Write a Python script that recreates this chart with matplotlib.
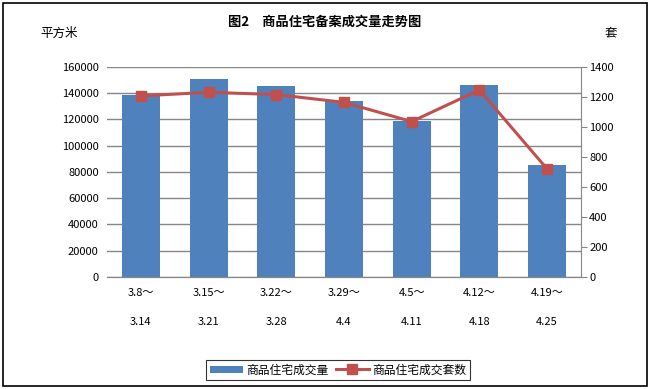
import matplotlib.pyplot as plt
from matplotlib.patches import Rectangle

plt.rcParams['font.family'] = ['Noto Sans CJK SC', 'DejaVu Sans']

weeks_start = ['3.8～', '3.15～', '3.22～', '3.29～', '4.5～', '4.12～', '4.19～']
weeks_end = ['3.14', '3.21', '3.28', '4.4', '4.11', '4.18', '4.25']
area = [139000, 151000, 145500, 134000, 119000, 146300, 85300]
units = [1207, 1231, 1216, 1164, 1036, 1247, 720]

fig = plt.figure(figsize=(6.5, 3.89), dpi=100)
ax = fig.add_axes([0.1646, 0.2879, 0.7292, 0.54])
ax2 = ax.twinx()

x = list(range(len(area)))
ax.bar(x, area, width=0.56, color='#4F81BD', label='商品住宅成交量', zorder=2)
ax2.plot(x, units, color='#C0504D', lw=2.2, marker='s', markersize=7,
         label='商品住宅成交套数', zorder=3)

ax.set_xlim(-0.5, len(area) - 0.5)
ax.set_ylim(0, 160000)
ax.set_yticks(range(0, 160001, 20000))
ax2.set_ylim(0, 1400)
ax2.set_yticks(range(0, 1401, 200))
ax.grid(axis='y', color='#868686', lw=1, zorder=0)
ax.set_axisbelow(True)

ax.set_xticks(x)
ax.set_xticklabels([a + '\n\n' + b for a, b in zip(weeks_start, weeks_end)],
                   fontsize=8, linespacing=1.55)
ax.tick_params(axis='x', length=0, pad=8)
ax.tick_params(axis='y', labelsize=8, length=0, pad=6)
ax2.tick_params(axis='y', labelsize=8, length=4, color='#868686', pad=2)

for s in ['top', 'left']:
    ax.spines[s].set_visible(False)
    ax2.spines[s].set_visible(False)
ax.spines['right'].set_visible(False)
ax2.spines['right'].set_color('#868686')
ax2.spines['bottom'].set_color('#868686')
ax.spines['bottom'].set_color('#868686')

fig.text(0.5, 0.945, '图2　商品住宅备案成交量走势图', ha='center', va='center',
         fontsize=9.5, fontweight='bold')
fig.text(0.062, 0.915, '平方米', ha='left', va='center', fontsize=9)
fig.text(0.93, 0.915, '套', ha='left', va='center', fontsize=9)

h1, l1 = ax.get_legend_handles_labels()
h2, l2 = ax2.get_legend_handles_labels()
leg = fig.legend(h1 + h2, l1 + l2, loc='center', bbox_to_anchor=(0.52, 0.049),
                 ncol=2, fontsize=8.5, frameon=True, fancybox=False,
                 edgecolor='black', handlelength=2.8, handleheight=0.6,
                 columnspacing=0.6, handletextpad=0.3, borderpad=0.3)
leg.get_frame().set_linewidth(0.8)

fig.patches.append(Rectangle((0.004, 0.008), 0.992, 0.984, transform=fig.transFigure,
                             fill=False, edgecolor='black', lw=1.2))

fig.savefig('out.png', dpi=100)
